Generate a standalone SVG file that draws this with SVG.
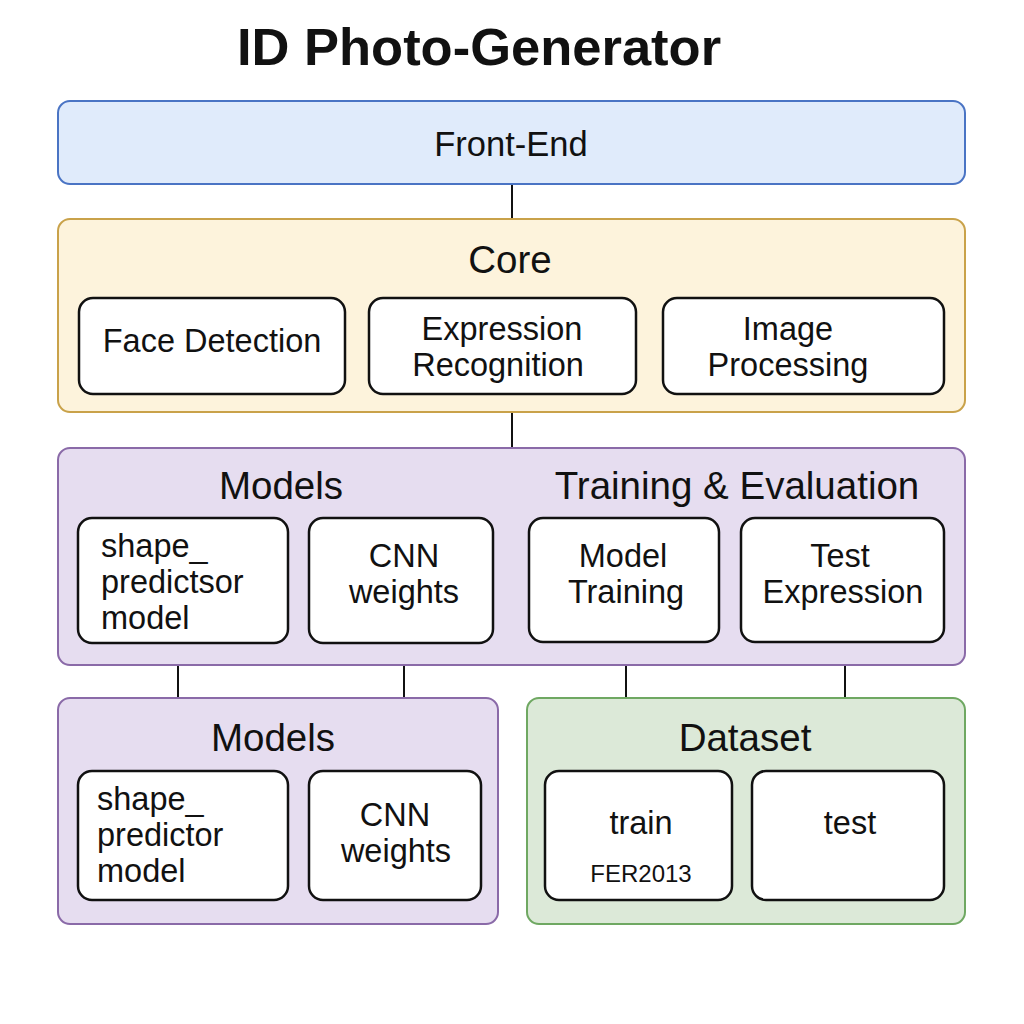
<svg xmlns="http://www.w3.org/2000/svg" width="1024" height="1024" viewBox="0 0 1024 1024">
<style>
text{font-family:"Liberation Sans",Arial,sans-serif;fill:#111;}
.t{font-size:32.5px;text-anchor:middle;}
.l{font-size:32.5px;}
.h{font-size:38.5px;text-anchor:middle;}
.box{fill:#fff;stroke:#111;stroke-width:2.5;}
.fe{fill:#e0ebfb;stroke:#4a74c4;stroke-width:2;}
.core{fill:#fdf3dc;stroke:#c9a24a;stroke-width:2;}
.pur{fill:#e6ddf0;stroke:#8a6aa8;stroke-width:2;}
.grn{fill:#dce9d8;stroke:#6fa862;stroke-width:2;}
.c{stroke:#111;stroke-width:2;fill:none;}
</style>
<rect width="1024" height="1024" fill="#fff"/>
<text x="479" y="65" style="font-size:52.5px;font-weight:bold;text-anchor:middle;">ID Photo-Generator</text>
<g id="connectors">
<line class="c" x1="512" y1="184" x2="512" y2="219"/>
<line class="c" x1="512" y1="412" x2="512" y2="448"/>
<line class="c" x1="178" y1="643" x2="178" y2="698"/>
<line class="c" x1="404" y1="643" x2="404" y2="698"/>
<line class="c" x1="626" y1="642" x2="626" y2="698"/>
<line class="c" x1="845" y1="642" x2="845" y2="698"/>
</g>
<g id="front-end">
<rect class="fe" x="58" y="101" width="907" height="83" rx="12"/>
<text class="t" x="511" y="156" style="font-size:34.5px">Front-End</text>
</g>
<g id="core">
<rect class="core" x="58" y="219" width="907" height="193" rx="12"/>
<text class="h" x="510" y="273">Core</text>
</g>
<g id="face-detection">
<rect class="box" x="79" y="298" width="266" height="96" rx="14"/>
<text class="t" x="212" y="352">Face Detection</text>
</g>
<g id="expression-recognition">
<rect class="box" x="369" y="298" width="267" height="96" rx="14"/>
<text class="t" x="502" y="340">Expression</text>
<text class="t" x="498" y="376">Recognition</text>
</g>
<g id="image-processing">
<rect class="box" x="663" y="298" width="281" height="96" rx="14"/>
<text class="t" x="788" y="340">Image</text>
<text class="t" x="788" y="376">Processing</text>
</g>
<g id="models-training">
<rect class="pur" x="58" y="448" width="907" height="217" rx="12"/>
<text class="h" x="281" y="499">Models</text>
<text class="h" x="737" y="499">Training &amp; Evaluation</text>
</g>
<g id="shape-predictsor">
<rect class="box" x="78" y="518" width="210" height="125" rx="14"/>
<text class="l" x="101" y="557">shape_</text>
<text class="l" x="101" y="593">predictsor</text>
<text class="l" x="101" y="629">model</text>
</g>
<g id="cnn-weights-1">
<rect class="box" x="309" y="518" width="184" height="125" rx="14"/>
<text class="t" x="404" y="567">CNN</text>
<text class="t" x="404" y="603">weights</text>
</g>
<g id="model-training">
<rect class="box" x="529" y="518" width="190" height="124" rx="14"/>
<text class="t" x="623" y="567">Model</text>
<text class="t" x="626" y="603">Training</text>
</g>
<g id="test-expression">
<rect class="box" x="741" y="518" width="203" height="124" rx="14"/>
<text class="t" x="840" y="567">Test</text>
<text class="t" x="843" y="603">Expression</text>
</g>
<g id="models-2">
<rect class="pur" x="58" y="698" width="440" height="226" rx="12"/>
<text class="h" x="273" y="751">Models</text>
</g>
<g id="shape-predictor">
<rect class="box" x="78" y="771" width="210" height="129" rx="14"/>
<text class="l" x="97" y="810">shape_</text>
<text class="l" x="97" y="846">predictor</text>
<text class="l" x="97" y="882">model</text>
</g>
<g id="cnn-weights-2">
<rect class="box" x="309" y="771" width="172" height="129" rx="14"/>
<text class="t" x="395" y="826">CNN</text>
<text class="t" x="396" y="862">weights</text>
</g>
<g id="dataset">
<rect class="grn" x="527" y="698" width="438" height="226" rx="12"/>
<text class="h" x="745" y="751">Dataset</text>
</g>
<g id="train">
<rect class="box" x="545" y="771" width="187" height="129" rx="14"/>
<text class="t" x="641" y="834">train</text>
<text class="t" x="641" y="882" style="font-size:24px">FER2013</text>
</g>
<g id="test">
<rect class="box" x="752" y="771" width="192" height="129" rx="14"/>
<text class="t" x="850" y="834">test</text>
</g>
</svg>
